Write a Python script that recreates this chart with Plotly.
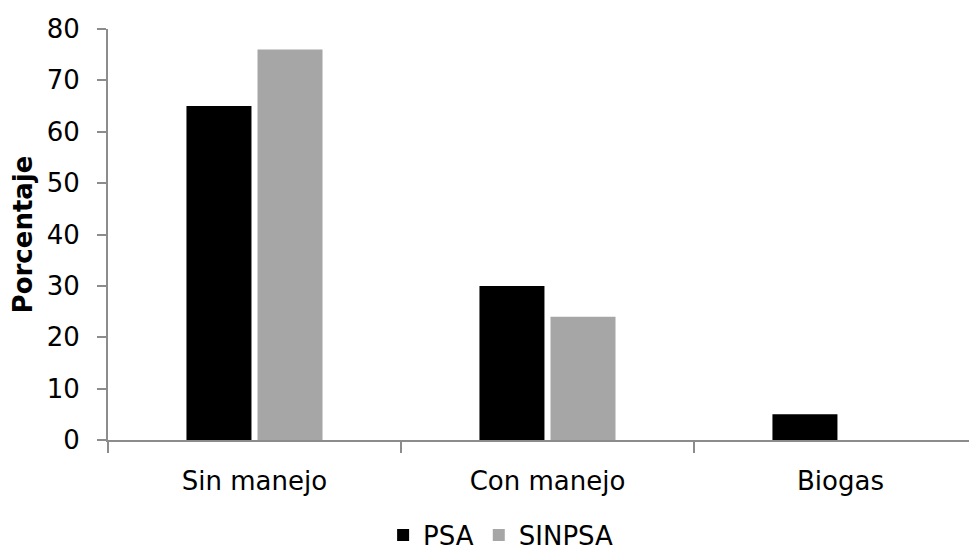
import plotly.graph_objects as go

categories = ["Sin manejo", "Con manejo", "Biogas"]
psa = [65, 30, 5]
sinpsa = [76, 24, 0]
y_ticks = [0, 10, 20, 30, 40, 50, 60, 70, 80]

FONT = "DejaVu Sans"
FS = 26

fig = go.Figure()
fig.add_trace(go.Bar(name="PSA", x=categories, y=psa, marker=dict(color="#000000", line=dict(width=0))))
fig.add_trace(go.Bar(name="SINPSA", x=categories, y=sinpsa, marker=dict(color="#a6a6a6", line=dict(width=0))))

fig.update_layout(
    width=969, height=543,
    margin=dict(l=100, r=0, t=21, b=111),
    paper_bgcolor="white", plot_bgcolor="white",
    barmode="group", bargap=0.515, bargroupgap=0.085,
    font=dict(family=FONT, size=FS, color="black"),
    showlegend=True,
    legend=dict(orientation="h", x=0.4518, xanchor="center", xref="paper",
                y=0.0295, yanchor="middle", yref="container",
                font=dict(family=FONT, size=FS, color="black"), itemwidth=30, traceorder="normal"),
)
fig.update_xaxes(
    range=[-0.5, 2.466], showline=True, linecolor="#8c8c8c", linewidth=2, automargin=False,
    ticks="outside", tickson="boundaries", ticklen=11, tickcolor="#8c8c8c", tickwidth=2,
    showgrid=False, zeroline=False, tickfont=dict(family=FONT, size=FS, color="black"),
    ticklabelstandoff=17,
)
fig.update_yaxes(
    range=[0, 80], tickvals=y_ticks, showline=True, linecolor="#8c8c8c", linewidth=2, automargin=False,
    ticks="outside", ticklen=9, tickcolor="#8c8c8c", tickwidth=2,
    showgrid=False, zeroline=False, tickfont=dict(family=FONT, size=FS, color="black"),
    ticklabelstandoff=12,
    title=dict(text="<b>Porcentaje</b>", font=dict(family=FONT, size=FS, color="black"), standoff=8),
)

fig.write_html("out.html")
